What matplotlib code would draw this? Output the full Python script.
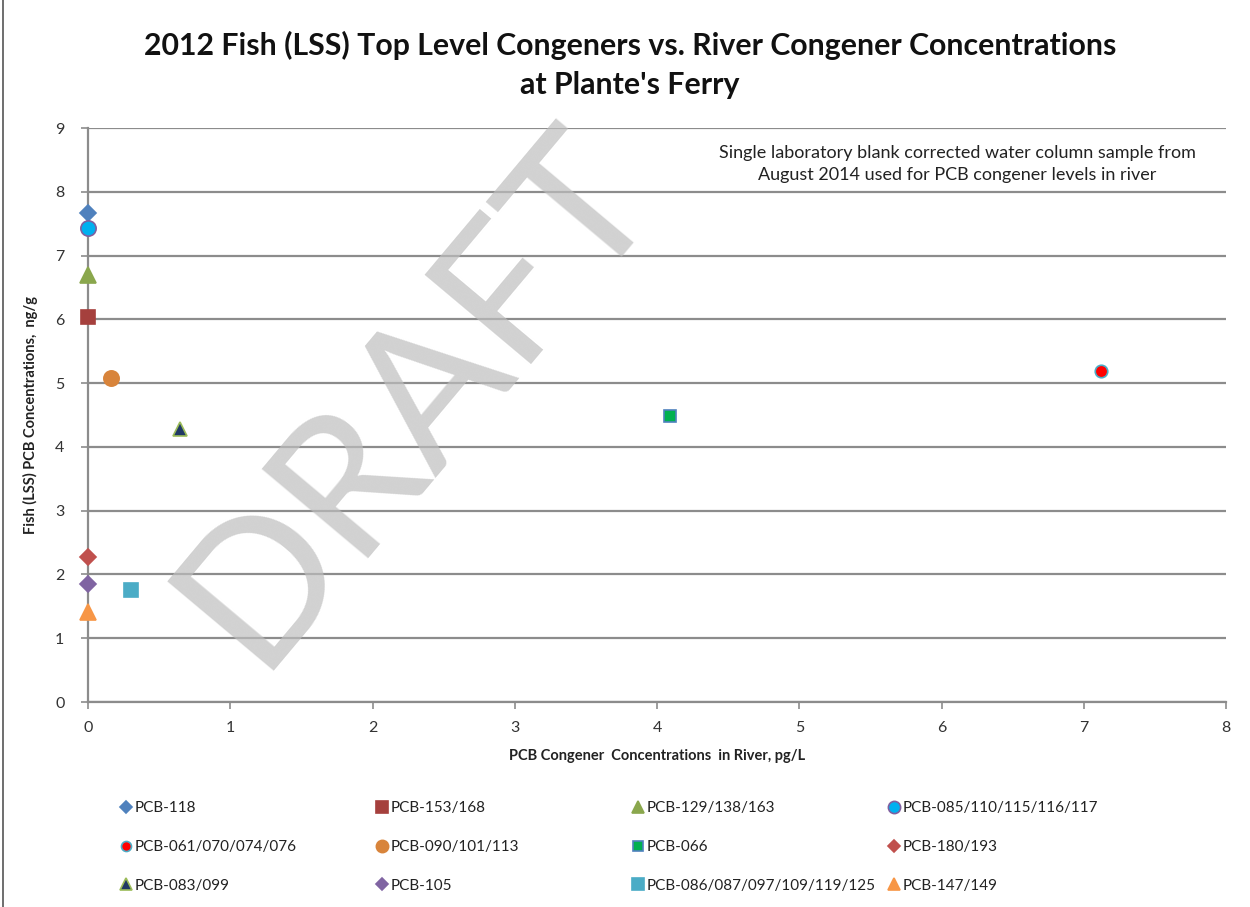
import matplotlib
matplotlib.use("Agg")
import matplotlib.pyplot as plt
from matplotlib.lines import Line2D

plt.rcParams['font.family'] = ['Lato', 'DejaVu Sans']

# ---- data ----
labels = ["PCB-118", "PCB-153/168", "PCB-129/138/163", "PCB-085/110/115/116/117",
          "PCB-061/070/074/076", "PCB-090/101/113", "PCB-066", "PCB-180/193",
          "PCB-083/099", "PCB-105", "PCB-086/087/097/109/119/125", "PCB-147/149"]
river_pg_L = [0.0, 0.0, 0.0, 0.0, 7.12, 0.16, 4.09, 0.0, 0.65, 0.0, 0.30, 0.0]
fish_ng_g = [7.66, 6.03, 6.69, 7.43, 5.19, 5.08, 4.48, 2.27, 4.28, 1.85, 1.75, 1.41]
x_ticks = [0, 1, 2, 3, 4, 5, 6, 7, 8]
y_ticks = [0, 1, 2, 3, 4, 5, 6, 7, 8, 9]

# styles: marker, face, edge, size
styles = [
    ("D", "#4F81BD", "#4F81BD", 8),
    ("s", "#A5403D", "#A5403D", 10),
    ("^", "#8AA74D", "#8AA74D", 11),
    ("o", "#00B0F0", "#7F60A0", 11),
    ("o", "#FF0000", "#4BACC6", 9),
    ("o", "#D8843B", "#D8843B", 11),
    ("s", "#00B050", "#4F81BD", 9),
    ("D", "#C0504D", "#C0504D", 8),
    ("^", "#1F3864", "#9BBB59", 10),
    ("D", "#8064A2", "#8064A2", 8),
    ("s", "#4BACC6", "#4BACC6", 10),
    ("^", "#F79646", "#F79646", 11),
]

W, H = 1250, 907
fig = plt.figure(figsize=(W / 100, H / 100), dpi=100)
ax = fig.add_axes([88 / W, 1 - 702 / H, (1226 - 88) / W, (702 - 128) / H])

handles = []
for lab, xv, yv, (m, fc, ec, ms) in zip(labels, river_pg_L, fish_ng_g, styles):
    h, = ax.plot([xv], [yv], linestyle="none", marker=m, markerfacecolor=fc,
                 markeredgecolor=ec, markersize=ms, markeredgewidth=1.2,
                 label=lab, zorder=5, clip_on=False)
    handles.append(h)

ax.set_xlim(0, 8)
ax.set_ylim(0, 9)
ax.set_xticks(x_ticks)
ax.set_yticks(y_ticks)
ax.set_xticklabels([str(v) for v in x_ticks])
ax.set_yticklabels([str(v) for v in y_ticks])
ax.tick_params(axis="both", direction="out", length=5, width=1.2, color="#8C8C8C",
               labelsize=11.5, labelcolor="#333333")
ax.tick_params(axis="y", pad=12)
ax.tick_params(axis="x", pad=9)
ax.grid(axis="y", color="#8C8C8C", linewidth=1.6)
ax.set_axisbelow(True)
for side in ["top", "right"]:
    ax.spines[side].set_visible(False)
for side in ["left", "bottom"]:
    ax.spines[side].set_color("#8C8C8C")
    ax.spines[side].set_linewidth(1.6)

ax.set_xlabel("PCB Congener  Concentrations  in River, pg/L", fontsize=10.5,
              fontweight="bold", color="#222222", labelpad=10)
ax.set_ylabel("Fish (LSS) PCB Concentrations,  ng/g", fontsize=10.5,
              fontweight="bold", color="#222222", labelpad=12)

fig.text(630 / W, 1 - 65 / H,
         "2012 Fish (LSS) Top Level Congeners vs. River Congener Concentrations\nat Plante's Ferry",
         ha="center", va="center", fontsize=21.8, fontweight="bold",
         linespacing=1.45, color="#111111")

fig.text(957 / W, 1 - 164 / H,
         "Single laboratory blank corrected water column sample from\nAugust 2014 used for PCB congener levels in river",
         ha="center", va="center", fontsize=13, color="#222222", linespacing=1.4)

# watermark
fig.text(415 / W, 1 - 395 / H, "DRAFT", ha="center", va="center", rotation=50,
         fontsize=140, fontweight="normal", color="#BEBEBE", alpha=0.7, zorder=10)

# legend: 4 columns at fixed positions, row-major order
col_x = [112, 368, 624, 880]
for c in range(4):
    idx = [c, c + 4, c + 8]
    leg = fig.legend([handles[i] for i in idx], [labels[i] for i in idx],
                     ncol=1, loc="upper left",
                     bbox_to_anchor=(col_x[c] / W, 1 - 795 / H),
                     frameon=False, fontsize=11, handletextpad=0.1,
                     handlelength=1.0, labelspacing=1.62, markerscale=0.8,
                     borderaxespad=0)
    for t in leg.get_texts():
        t.set_color("#222222")

# left border line
fig.add_artist(Line2D([3 / W, 3 / W], [0, 1], color="#555555", linewidth=1.2))

fig.savefig("out.png", dpi=100)
